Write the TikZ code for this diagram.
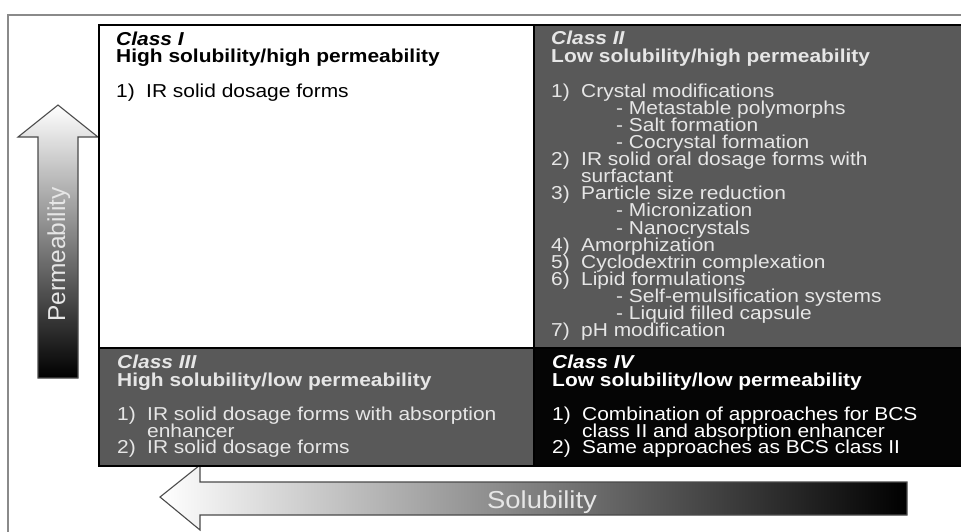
\documentclass[tikz,border=0pt]{standalone}
\usepackage{fontspec}
\setmainfont{Liberation Sans}[FakeStretch=1.12]
\newfontfamily\plainsans{Liberation Sans}
\definecolor{cellgrey}{HTML}{595959}
\definecolor{cellblack}{HTML}{050505}
\definecolor{lighttext}{HTML}{E6E6E6}
\definecolor{framegrey}{HTML}{8A8A8A}
\definecolor{arrowline}{HTML}{4A4A4A}
\newcommand{\nb}[1]{\makebox[30pt][l]{#1}}
\begin{document}
\begin{tikzpicture}[x=1pt,y=-1pt,
  ln/.style={anchor=base west, inner sep=0pt, font=\fontsize{18.7}{17}\selectfont},
  hd/.style={ln, font=\fontsize{18.7}{17}\selectfont\bfseries},
  cls/.style={ln, font=\fontsize{18.7}{17}\selectfont\bfseries\itshape},
  cell/.style={draw=black, line width=2pt, inner sep=0pt, anchor=north west},
  bigarrow/.style={draw=arrowline, line width=1.1pt, line join=miter}]
\useasboundingbox (0,0) rectangle (961,531);
\fill[white] (0,0) rectangle (961,531);
% outer frame
\draw[framegrey, line width=1.3pt] (8,545) -- (8,15) -- (975,15);
% permeability arrow
\shade[bigarrow, top color=white, bottom color=black]
  (58,105) -- (98,137) -- (78,137) -- (78,378) -- (38,378) -- (38,137) -- (18,137) -- cycle;
\node[rotate=90, anchor=base, inner sep=0pt, text=lighttext,
  font=\plainsans\fontsize{24.5}{28}\selectfont] (perm) at (65,254.5) {Permeability};
% solubility arrow
\shade[bigarrow, left color=white, right color=black]
  (160,497) -- (200,465) -- (200,482) -- (907,482) -- (907,515) -- (200,515) -- (200,530) -- cycle;
\node[anchor=base, inner sep=0pt, text=lighttext,
  font=\fontsize{24.5}{28}\selectfont] (sol) at (542,508) {Solubility};
% cells
\node[cell, fill=white, minimum width=435pt, minimum height=323pt] (c1) at (98,24) {};
\node[cell, fill=cellgrey, minimum width=432pt, minimum height=323pt] (c2) at (533,24) {};
\node[cell, fill=cellgrey, minimum width=435pt, minimum height=118pt] (c3) at (98,347) {};
\node[cell, fill=cellblack, minimum width=432pt, minimum height=118pt] (c4) at (533,347) {};
% Class I
\node[cls] (c1a) at (116,45) {Class I};
\node[hd] (c1b) at (116,62) {High solubility/high permeability};
\node[ln] (c1c) at (116,97) {\nb{1)}IR solid dosage forms};
% Class II
\node[cls, text=lighttext] (c2a) at (551,44) {Class II};
\node[hd, text=lighttext] (c2b) at (551,62) {Low solubility/high permeability};
\foreach \xo/\t [count=\i from 0] in {
  0/{\nb{1)}Crystal modifications},
  65/{- Metastable polymorphs},
  65/{- Salt formation},
  65/{- Cocrystal formation},
  0/{\nb{2)}IR solid oral dosage forms with},
  0/{\nb{}surfactant},
  0/{\nb{3)}Particle size reduction},
  65/{- Micronization},
  65/{- Nanocrystals},
  0/{\nb{4)}Amorphization},
  0/{\nb{5)}Cyclodextrin complexation},
  0/{\nb{6)}Lipid formulations},
  65/{- Self-emulsification systems},
  65/{- Liquid filled capsule},
  0/{\nb{7)}pH modification}}
  \node[ln, text=lighttext] (c2l\i) at ({551+\xo},{97+17.14*\i}) {\t};
% Class III
\node[cls, text=lighttext] (c3a) at (117,368) {Class III};
\node[hd, text=lighttext] (c3b) at (117,386) {High solubility/low permeability};
\node[ln, text=lighttext] (c3c) at (117,420) {\nb{1)}IR solid dosage forms with absorption};
\node[ln, text=lighttext] (c3d) at (117,437) {\nb{}enhancer};
\node[ln, text=lighttext] (c3e) at (117,453) {\nb{2)}IR solid dosage forms};
% Class IV
\node[cls, text=white] (c4a) at (552,368) {Class IV};
\node[hd, text=white] (c4b) at (552,386) {Low solubility/low permeability};
\node[ln, text=white] (c4c) at (552,420) {\nb{1)}Combination of approaches for BCS};
\node[ln, text=white] (c4d) at (552,437) {\nb{}class II and absorption enhancer};
\node[ln, text=white] (c4e) at (552,453) {\nb{2)}Same approaches as BCS class II};
\end{tikzpicture}
\end{document}
